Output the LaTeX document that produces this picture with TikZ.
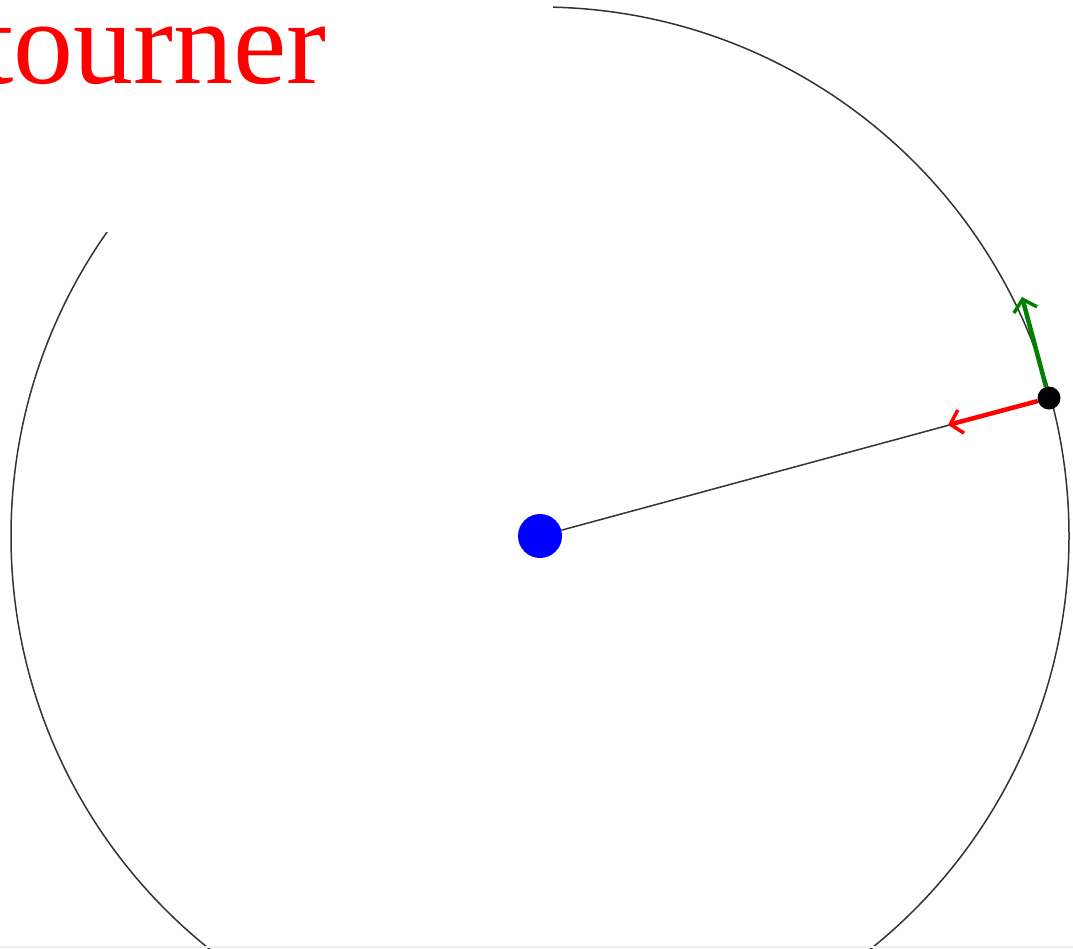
\documentclass[tikz,border=0pt]{standalone}
\usepackage{fontspec}
\setmainfont{Liberation Serif}
\usetikzlibrary{arrows.meta}
\tikzset{
  orbit/.style={draw=black!80, line width=1.5pt},
  radiusline/.style={draw=black!80, line width=1.5pt},
  dot/.style={circle, inner sep=0pt, fill=#1},
  vec/.style={line width=4.5pt, -{Straight Barb[length=11pt,width=24pt,line width=3.5pt]}},
  title/.style={text=red, inner sep=0pt, font=\fontsize{120}{122}\selectfont}
}
\begin{document}
\begin{tikzpicture}[x=1pt,y=-1pt]
\useasboundingbox (0,0) rectangle (1073,948);
\clip (0,0) rectangle (1073,948);
\fill[white] (0,0) rectangle (1073,948);
\draw[orbit] (540,536) circle[radius=529pt];
\fill[white] (0,0) rectangle (553,232);
\node[title, anchor=base east] (t) at (327,83) {tourner};
\node[dot=blue, minimum size=44pt] (c) at (540,536) {};
\node[dot=black, minimum size=23pt] (p) at (1049,398) {};
\coordinate (rt) at (948,425);
\coordinate (gt) at (1022,297);
\draw[radiusline] (c) -- (p);
\draw[vec, red] (p) -- (rt);
\draw[vec, green!50!black] (p) -- (gt);
\fill[black!6] (0,946) rectangle (1073,948);
\end{tikzpicture}
\end{document}
